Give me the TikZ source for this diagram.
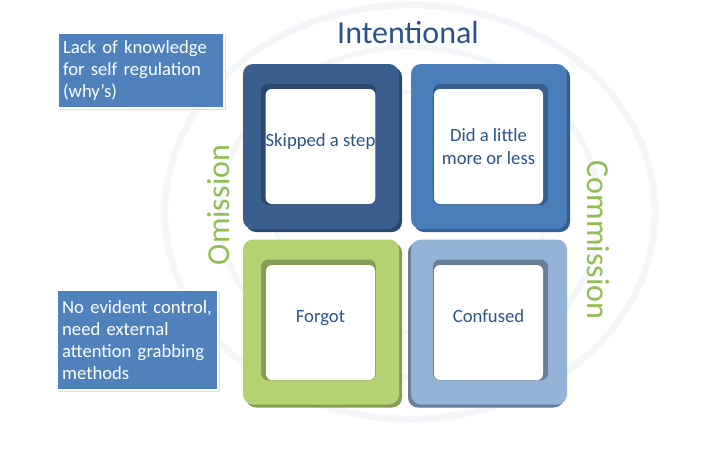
\documentclass[tikz,border=0pt]{standalone}
\usepackage{fontspec}
\setmainfont{Carlito}
\usepackage{xcolor}
\usetikzlibrary{shadows}

\definecolor{darkring}{HTML}{3A5F8F}
\definecolor{midring}{HTML}{4A7EBB}
\definecolor{greenring}{HTML}{B3D272}
\definecolor{lightring}{HTML}{95B3D7}
\definecolor{txtblue}{HTML}{2C5489}
\definecolor{txtgreen}{HTML}{92BD52}
\definecolor{boxblue}{HTML}{4F81BD}
\definecolor{wmgrey}{HTML}{F4F6FA}

\begin{document}
\begin{tikzpicture}[x=0.75pt, y=-0.75pt,
    ring/.style={minimum width=117pt, minimum height=123.75pt, rounded corners=7.5pt, inner sep=0pt, outer sep=0pt},
    rim/.style={minimum width=86pt, minimum height=90.5pt, rounded corners=5pt, inner sep=0pt},
    hole/.style={fill=white, minimum width=81.75pt, minimum height=86.25pt, rounded corners=4.5pt,
        inner sep=0pt, text=txtblue, align=center, font=\fontsize{14}{17.25}\selectfont},
    infobox/.style={fill=boxblue, draw=white, line width=1.5pt, text=white, align=left,
        inner xsep=4pt, inner ysep=3pt, font=\fontsize{14}{16.5}\selectfont,
        drop shadow={opacity=0.25, shadow xshift=1pt, shadow yshift=-1.5pt}},
    axis/.style={font=\fontsize{24}{28}\selectfont}]

                \useasboundingbox[fill=white] (0,0) rectangle (705,457);

                %% watermark
                \draw[wmgrey, line width=5pt] (410,212) ellipse (245 and 207);
                \draw[wmgrey, line width=4pt] (410,212) ellipse (190 and 165);
                \draw[wmgrey, line width=3pt] (410,212) ellipse (135 and 120);

                %% top left
                \node[ring, fill=darkring!75!black] at (324,149.5) {};
                \node[ring, fill=darkring] (skipped) at (321,146.5) {};
                \node[rim, fill=darkring!75!black] at (318.5,144.5) {};
                \node[hole] (skippedin) at (320.5,146.5) {\raisebox{3.5pt}[\height][\depth]{\strut Skipped a step}};

                %% top right
                \node[ring, fill=midring!75!black] at (492,149.5) {};
                \node[ring, fill=midring] (little) at (489,146.5) {};
                \node[rim, fill=midring!75!black] at (490.5,144.5) {};
                \node[hole] (littlein) at (488.5,146.5) {Did a little\\more or less};

                %% bottom left
                \node[ring, fill=greenring!75!black] at (324,325) {};
                \node[ring, fill=greenring] (forgot) at (321,322) {};
                \node[rim, fill=greenring!75!black] at (318.5,320) {};
                \node[hole] (forgotin) at (320.5,322.5) {\raisebox{3.5pt}[\height][\depth]{\strut Forgot}};

                %% bottom right
                \node[ring, fill=lightring!70!black] at (486,325) {};
                \node[ring, fill=lightring] (confused) at (489,322) {};
                \node[rim, fill=lightring!70!black] at (490.5,320) {};
                \node[hole] (confusedin) at (488.5,322.5) {\raisebox{3.5pt}[\height][\depth]{\strut Confused}};

                %% axis labels
                \node[axis, text=txtblue] (intentional) at (408,33) {Intentional};
                \node[axis, text=txtgreen, rotate=90] (omission) at (219,205) {Omission};
                \node[axis, text=txtgreen, rotate=-90] (commission) at (598,240) {Commission};

                %% side notes
                \node[infobox, text width=117pt, minimum height=56.25pt] (whybox) at (141,70.5)
                    {Lack of knowledge\\for self regulation\\(why’s)};
                \node[infobox, text width=113pt, minimum height=75pt] (controlbox) at (137.5,340)
                    {\hyphenpenalty=10000 No evident control,\\need external\\attention grabbing\\methods};

\end{tikzpicture}
\end{document}
